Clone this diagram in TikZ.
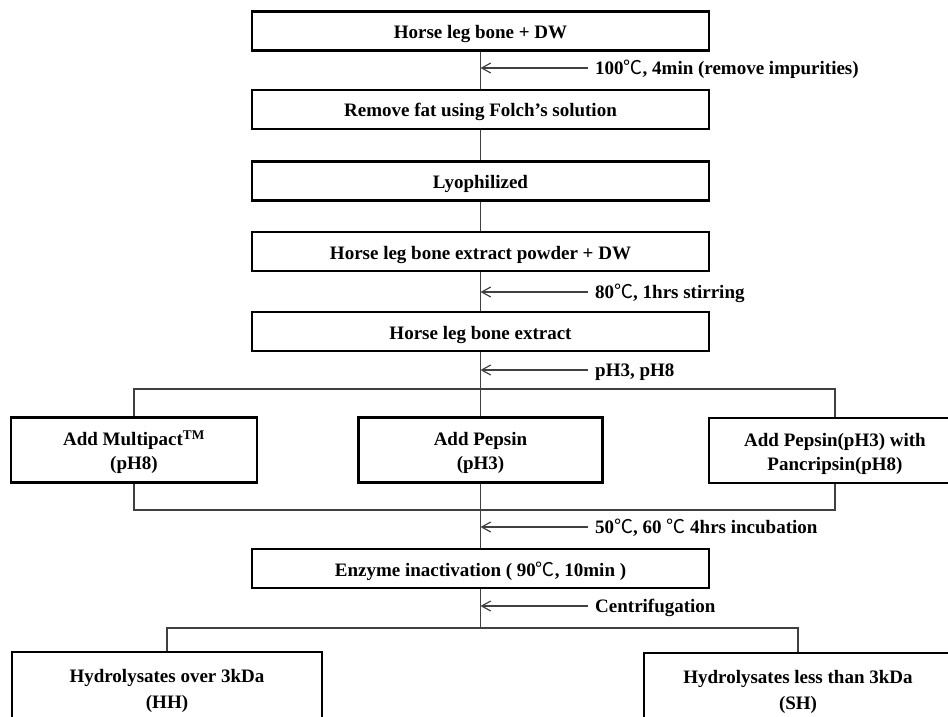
\documentclass[tikz,border=0pt]{standalone}
\usepackage{fontspec}
\setmainfont{Liberation Serif}
\newfontfamily\cjk{Noto Sans CJK SC}
\usetikzlibrary{arrows.meta}
\newcommand{\degc}{{\cjk\mdseries ℃}}
\newcommand{\upA}{\rule{0pt}{20pt}}
\newcommand{\upB}{\rule{0pt}{22pt}}
\begin{document}
\begin{tikzpicture}[x=1pt,y=-1pt,
  boxbase/.style={draw, line width=2.4pt, inner sep=0pt, align=center,
    minimum height=39pt},
  box/.style={boxbase, font=\bfseries\fontsize{19}{24}\selectfont,
    text height=19pt, text depth=4pt, minimum width=457pt},
  rowbox/.style={boxbase, font=\bfseries\fontsize{19}{24}\selectfont, minimum height=65pt},
  endbox/.style={boxbase, font=\bfseries\fontsize{19}{26}\selectfont, minimum height=70pt},
  conn/.style={line width=1.2pt, draw=black!75},
  arr/.style={conn, -{Straight Barb[length=9pt,width=10pt]}},
  lab/.style={anchor=west, inner xsep=7pt, inner ysep=0pt,
    text height=13pt, text depth=0pt,
    font=\bfseries\fontsize{19}{23}\selectfont}]
\useasboundingbox (0,0) rectangle (948,717);
% main column
\node[box] (b1) at (480.5,31) {Horse leg bone + DW};
\node[box] (b2) at (480.5,109.5) {Remove fat using Folch’s solution};
\node[box] (b3) at (480.5,181) {Lyophilized};
\node[box] (b4) at (480.5,251.5) {Horse leg bone extract powder + DW};
\node[box] (b5) at (480.5,331.5) {Horse leg bone extract};
% enzyme row
\node[rowbox, minimum width=246pt] (L) at (134,450) {\upA Add Multipact\textsuperscript{TM}\\(pH8)};
\node[rowbox, minimum width=244pt] (M) at (480.5,450) {\upA Add Pepsin\\(pH3)};
\node[rowbox, minimum width=252pt] (R) at (835,450.5) {\upA Add Pepsin(pH3) with\\Pancripsin(pH8)};
\node[box] (en) at (480.5,568.5) {Enzyme inactivation ( 90\degc, 10min )};
% products
\node[endbox, minimum width=310pt] (HH) at (167,687) {\upB Hydrolysates over 3kDa\\(HH)};
\node[endbox, minimum width=308pt] (SH) at (798,688) {\upB Hydrolysates less than 3kDa\\(SH)};
% labels
\node[lab] (t1) at (588,68) {100\degc, 4min (remove impurities)};
\node[lab] (t2) at (588,292) {80\degc, 1hrs stirring};
\node[lab] (t3) at (588,370) {pH3, pH8};
\node[lab] (t4) at (588,527) {50\degc, 60 \degc\ 4hrs incubation};
\node[lab] (t5) at (588,606) {Centrifugation};
% connectors
\draw[conn] (b1.south) -- (b2.north);
\draw[conn] (b2.south) -- (b3.north);
\draw[conn] (b3.south) -- (b4.north);
\draw[conn] (b4.south) -- (b5.north);
\draw[conn] (b5.south) -- (M.north);
\coordinate (s1) at (480.5,389);
\draw[conn] (L.north) |- (s1) -| (R.north);
\coordinate (s2) at (480.5,510);
\draw[conn] (L.south) |- (s2) -| (R.south);
\draw[conn] (M.south) -- (en.north);
\coordinate (s3) at (480.5,628);
\draw[conn] (en.south) -- (s3);
\draw[conn] (HH.north) |- (s3) -| (SH.north);
% arrows
\draw[arr] (t1.west) -- (t1.west -| b1.south);
\draw[arr] (t2.west) -- (t2.west -| b4.south);
\draw[arr] (t3.west) -- (t3.west -| b5.south);
\draw[arr] (t4.west) -- (t4.west -| M.south);
\draw[arr] (t5.west) -- (t5.west -| en.south);
\end{tikzpicture}
\end{document}
